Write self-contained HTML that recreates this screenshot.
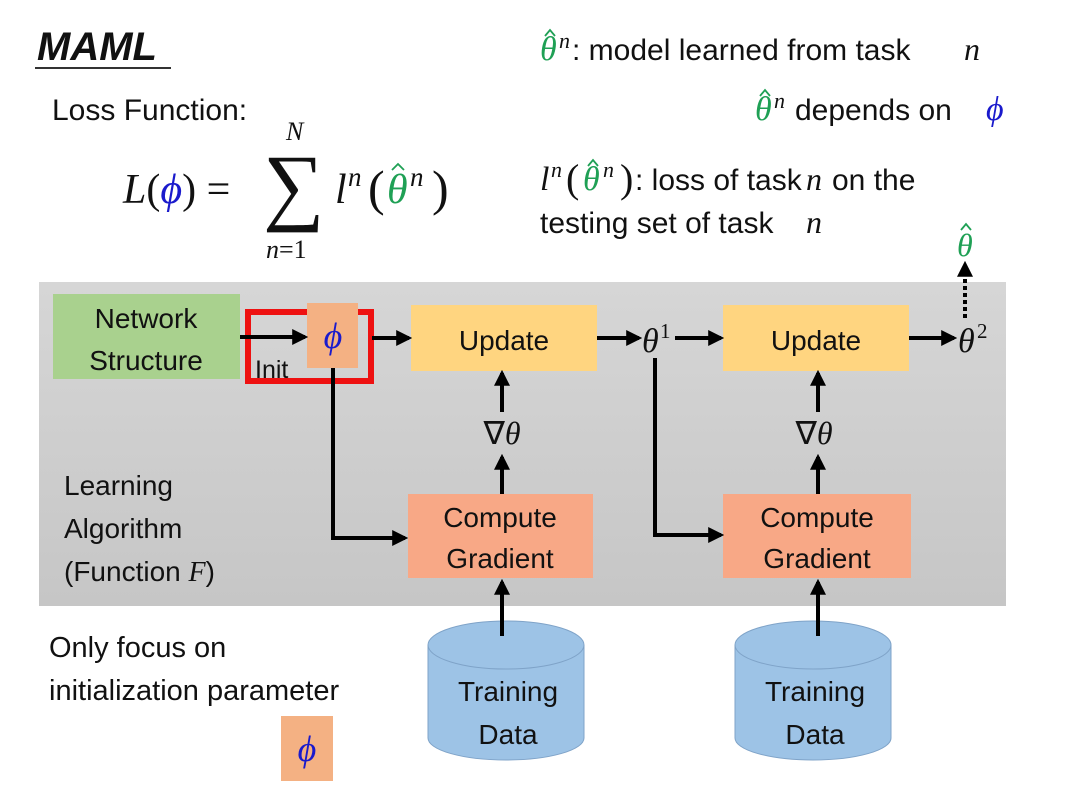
<!DOCTYPE html>
<html><head><meta charset="utf-8"><style>
html,body{margin:0;padding:0;background:#fff;}
svg{display:block;}
.t{font-family:"Liberation Sans",sans-serif;fill:#111;}
.m{font-family:"Liberation Serif",serif;font-style:italic;fill:#111;}
.g{fill:#1fa055;}
.b{fill:#1a1acc;}
.hat{fill:none;stroke:#1fa055;stroke-width:1.8;}
</style></head><body>
<svg width="1080" height="810" viewBox="0 0 1080 810" xmlns="http://www.w3.org/2000/svg">
<defs>
<linearGradient id="pg" x1="0" y1="0" x2="0" y2="1"><stop offset="0" stop-color="#d6d6d6"/><stop offset="1" stop-color="#c6c6c6"/></linearGradient>
<marker id="ah" markerWidth="4" markerHeight="4" refX="3.2" refY="2" orient="auto" markerUnits="strokeWidth"><path d="M0,0 L4,2 L0,4 z" fill="#000"/></marker>
</defs>
<!-- title -->
<text x="37" y="60" class="t" font-size="40" font-weight="bold" font-style="italic">MAML</text>
<rect x="35" y="67" width="136" height="2" fill="#333"/>
<text x="52" y="120" class="t" font-size="30">Loss Function:</text>
<!-- formula -->
<text x="123" y="203" class="m" font-size="42">L<tspan font-style="normal">(</tspan><tspan class="b">ϕ</tspan><tspan font-style="normal">) =</tspan></text>
<text x="263" y="214" font-family="Liberation Serif,serif" font-size="86" fill="#111">∑</text>
<text x="286" y="140" class="m" font-size="26">N</text>
<text x="266" y="258" class="m" font-size="26">n<tspan font-style="normal">=1</tspan></text>
<text x="335" y="203" class="m" font-size="42">l</text>
<text x="348" y="186" class="m" font-size="27">n</text>
<text x="368" y="205" font-family="Liberation Serif,serif" font-size="50" fill="#111">(</text>
<text x="387" y="203" class="m g" font-size="42">θ</text>
<path class="hat" d="M392,170 l6,-6 l6,6"/>
<text x="410" y="186" class="m" font-size="27">n</text>
<text x="432" y="205" font-family="Liberation Serif,serif" font-size="50" fill="#111">)</text>
<!-- right text -->
<text x="540" y="60" class="m g" font-size="34">θ</text>
<path class="hat" d="M545,36 l5,-6 l5,6"/>
<text x="559" y="48" class="m" font-size="22">n</text>
<text x="572" y="60" class="t" font-size="30">: model learned from task</text>
<text x="964" y="60" class="m" font-size="32">n</text>

<text x="755" y="120" class="m g" font-size="34">θ</text>
<path class="hat" d="M760,96 l5,-6 l5,6"/>
<text x="774" y="108" class="m" font-size="22">n</text>
<text x="795" y="120" class="t" font-size="30">depends on</text>
<text x="986" y="120" class="m b" font-size="34">ϕ</text>

<text x="540" y="190" class="m" font-size="34">l</text>
<text x="551" y="177" class="m" font-size="22">n</text>
<text x="566" y="192" font-family="Liberation Serif,serif" font-size="40" fill="#111">(</text>
<text x="583" y="190" class="m g" font-size="34">θ</text>
<path class="hat" d="M588,166 l5,-6 l5,6"/>
<text x="603" y="177" class="m" font-size="22">n</text>
<text x="620" y="192" font-family="Liberation Serif,serif" font-size="40" fill="#111">)</text>
<text x="635" y="190" class="t" font-size="30">: loss of task</text>
<text x="806" y="190" class="m" font-size="32">n</text>
<text x="832" y="190" class="t" font-size="30">on the</text>
<text x="540" y="233" class="t" font-size="30">testing set of task</text>
<text x="806" y="233" class="m" font-size="32">n</text>
<!-- panel -->
<rect x="39" y="282" width="967" height="324" fill="url(#pg)"/>
<rect x="53" y="294" width="187" height="85" fill="#a9d18e"/>
<text x="146" y="328" class="t" font-size="28" text-anchor="middle">Network</text>
<text x="146" y="370" class="t" font-size="28" text-anchor="middle">Structure</text>
<rect x="248" y="312" width="123" height="69" fill="none" stroke="#ee1111" stroke-width="6"/>
<rect x="307" y="303" width="51" height="65" fill="#f4b183"/>
<text x="333" y="348" class="m b" font-size="36" text-anchor="middle">ϕ</text>
<text x="255" y="378" class="t" font-size="25">Init</text>
<rect x="411" y="305" width="186" height="66" fill="#ffd580"/>
<text x="504" y="350" class="t" font-size="28" text-anchor="middle">Update</text>
<rect x="723" y="305" width="186" height="66" fill="#ffd580"/>
<text x="816" y="350" class="t" font-size="28" text-anchor="middle">Update</text>
<rect x="408" y="494" width="185" height="84" fill="#f8a886"/>
<text x="500" y="527" class="t" font-size="28" text-anchor="middle">Compute</text>
<text x="500" y="568" class="t" font-size="28" text-anchor="middle">Gradient</text>
<rect x="723" y="494" width="188" height="84" fill="#f8a886"/>
<text x="817" y="527" class="t" font-size="28" text-anchor="middle">Compute</text>
<text x="817" y="568" class="t" font-size="28" text-anchor="middle">Gradient</text>
<text x="642" y="352" class="m" font-size="34">θ</text>
<text x="660" y="338" font-family="Liberation Serif,serif" font-size="21" fill="#111">1</text>
<text x="958" y="352" class="m" font-size="34">θ</text>
<text x="977" y="338" font-family="Liberation Serif,serif" font-size="21" fill="#111">2</text>
<text x="502" y="444" class="m" font-size="32" text-anchor="middle"><tspan font-style="normal">∇</tspan>θ</text>
<text x="814" y="444" class="m" font-size="32" text-anchor="middle"><tspan font-style="normal">∇</tspan>θ</text>
<text x="957" y="256" class="m g" font-size="32">θ</text>
<path class="hat" d="M961,230 l5,-6 l5,6"/>
<text x="64" y="495" class="t" font-size="28">Learning</text>
<text x="64" y="538" class="t" font-size="28">Algorithm</text>
<text x="64" y="581" class="t" font-size="28">(Function <tspan class="m">F</tspan>)</text>
<!-- arrows -->
<g stroke="#000" stroke-width="4" fill="none">
<line x1="240" y1="337" x2="305" y2="337" marker-end="url(#ah)"/>
<line x1="372" y1="338" x2="409" y2="338" marker-end="url(#ah)"/>
<line x1="597" y1="338" x2="639" y2="338" marker-end="url(#ah)"/>
<line x1="675" y1="338" x2="721" y2="338" marker-end="url(#ah)"/>
<line x1="909" y1="338" x2="954" y2="338" marker-end="url(#ah)"/>
<polyline points="333,368 333,538 405,538" marker-end="url(#ah)"/>
<polyline points="655,358 655,535 721,535" marker-end="url(#ah)"/>
<line x1="502" y1="494" x2="502" y2="457" marker-end="url(#ah)"/>
<line x1="502" y1="412" x2="502" y2="373" marker-end="url(#ah)"/>
<line x1="818" y1="494" x2="818" y2="457" marker-end="url(#ah)"/>
<line x1="818" y1="412" x2="818" y2="373" marker-end="url(#ah)"/>
<line x1="965" y1="318" x2="965" y2="264" stroke-dasharray="4,3" marker-end="url(#ah)"/>
</g>
<!-- cylinders -->
<g fill="#9dc3e6" stroke="#7fa3c8" stroke-width="1">
<path d="M428,645 L428,738 A78,22 0 0 0 584,738 L584,645"/>
<ellipse cx="506" cy="645" rx="78" ry="24"/>
<path d="M735,645 L735,738 A78,22 0 0 0 891,738 L891,645"/>
<ellipse cx="813" cy="645" rx="78" ry="24"/>
</g>
<g stroke="#000" stroke-width="4">
<line x1="502" y1="636" x2="502" y2="582" marker-end="url(#ah)"/>
<line x1="818" y1="636" x2="818" y2="582" marker-end="url(#ah)"/>
</g>
<text x="508" y="701" class="t" font-size="28" text-anchor="middle">Training</text>
<text x="508" y="744" class="t" font-size="28" text-anchor="middle">Data</text>
<text x="815" y="701" class="t" font-size="28" text-anchor="middle">Training</text>
<text x="815" y="744" class="t" font-size="28" text-anchor="middle">Data</text>
<text x="49" y="657" class="t" font-size="29">Only focus on</text>
<text x="49" y="700" class="t" font-size="29">initialization parameter</text>
<rect x="281" y="716" width="52" height="65" fill="#f4b183"/>
<text x="307" y="761" class="m b" font-size="36" text-anchor="middle">ϕ</text>
</svg>
</body></html>
